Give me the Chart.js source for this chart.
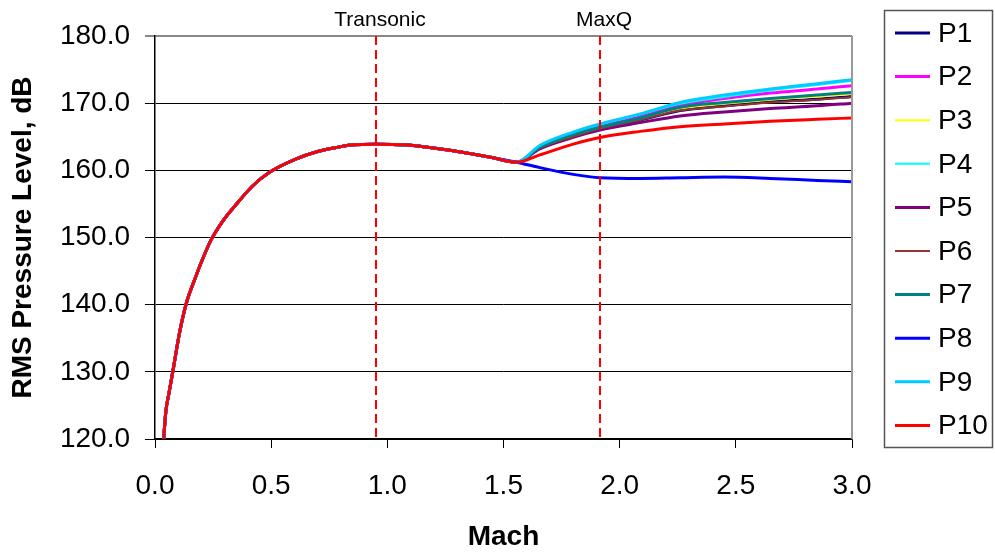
<!DOCTYPE html>
<html lang="en">
<head>
<meta charset="UTF-8">
<title>RMS Pressure Level vs Mach</title>
<script src="https://cdn.jsdelivr.net/npm/chart.js"></script>
<style>
    body { margin: 0; background: #fff; }
    canvas { display: block; }
</style>
</head>
<body>
<canvas id="canvas" width="995" height="552"></canvas>
<script>
    // shared part of all ten curves (they overlap until ~Mach 1.55)
    const machBase = [0.037, 0.047, 0.060, 0.080, 0.105, 0.134, 0.177, 0.198, 0.241, 0.291, 0.349,
        0.421, 0.493, 0.608, 0.700, 0.780, 0.852, 0.95, 1.075, 1.182, 1.269, 1.355, 1.45, 1.556];
    const splBase = [120.0, 124.2, 126.8, 130.7, 135.7, 140.1, 144.3, 146.2, 149.6, 152.4, 154.9,
        157.7, 159.7, 161.7, 162.8, 163.4, 163.8, 163.9, 163.8, 163.4, 163.0, 162.5, 161.9, 161.2];

    // where the curves split apart
    const machTail = [1.656, 1.80, 1.915, 2.088, 2.26, 2.45, 2.648, 2.85, 3.0];
    const p1Tail  = [163.3, 165.1, 166.2, 167.5, 168.9, 169.6, 170.2, 170.6, 171.0];
    const p2Tail  = [163.5, 165.4, 166.6, 168.0, 169.7, 170.7, 171.5, 172.1, 172.6];
    const p3Tail  = [163.4, 165.2, 166.3, 167.7, 169.2, 169.9, 170.5, 171.0, 171.4];
    const p4Tail  = [163.6, 165.6, 166.8, 168.3, 169.9, 170.9, 171.9, 172.7, 173.3];
    const p5Tail  = [163.2, 164.9, 166.0, 167.1, 168.1, 168.7, 169.2, 169.6, 170.0];
    const p6Tail  = [163.3, 165.0, 166.2, 167.5, 168.9, 169.5, 170.1, 170.5, 170.9];
    const p7Tail  = [163.4, 165.3, 166.4, 167.8, 169.4, 170.1, 170.7, 171.2, 171.6];
    const p8Tail  = [160.4, 159.4, 158.9, 158.8, 158.9, 159.0, 158.8, 158.5, 158.3];
    const p9Tail  = [163.7, 165.7, 166.9, 168.4, 170.1, 171.2, 172.1, 172.9, 173.5];
    const p10Tail = [162.3, 163.9, 164.9, 165.8, 166.5, 166.9, 167.3, 167.6, 167.8];

    const seriesLabels = ['P1', 'P2', 'P3', 'P4', 'P5', 'P6', 'P7', 'P8', 'P9', 'P10'];
    const seriesTails = [p1Tail, p2Tail, p3Tail, p4Tail, p5Tail, p6Tail, p7Tail, p8Tail, p9Tail, p10Tail];
    const seriesColors = ['#000080', '#ff00ff', '#ffff00', '#00ffff', '#800080',
        '#993333', '#008080', '#0000ff', '#00ccff', '#ff0000'];
    const seriesWidths = [3, 3, 2, 2, 3, 2, 3, 3, 3, 3];

    // event markers
    const markerMach = [0.95, 1.915];
    const markerLabels = ['Transonic', 'MaxQ'];

    const yTicks = [120, 130, 140, 150, 160, 170, 180];
    const xTicks = [0, 0.5, 1.0, 1.5, 2.0, 2.5, 3.0];

    const FONT = 'Arial, "Liberation Sans", sans-serif';
    Chart.defaults.color = '#000';
    Chart.defaults.font.family = FONT;

    const datasets = seriesLabels.map((label, i) => {
        const xs = machBase.concat(machTail);
        const ys = splBase.concat(seriesTails[i]);
        return {
            label: label,
            data: xs.map((x, k) => ({ x: x, y: ys[k] })),
            borderColor: seriesColors[i],
            backgroundColor: seriesColors[i],
            borderWidth: seriesWidths[i],
            pointRadius: 0,
            cubicInterpolationMode: 'monotone',
            order: seriesLabels.length - i   // later series drawn on top, like the original
        };
    });

    // dashed marker lines, right edge of the plot and the boxed legend
    const extras = {
        id: 'extras',
        afterDatasetsDraw(chart) {
            const { ctx, chartArea: a, scales: { x } } = chart;
            ctx.save();
            ctx.strokeStyle = '#ff0000';
            ctx.lineWidth = 2;
            ctx.setLineDash([9, 5]);
            markerMach.forEach((m, i) => {
                const px = Math.round(x.getPixelForValue(m));
                ctx.beginPath();
                ctx.moveTo(px, a.top);
                ctx.lineTo(px, a.bottom);
                ctx.stroke();
                ctx.fillStyle = '#000';
                ctx.font = '21px ' + FONT;
                ctx.textAlign = 'center';
                ctx.textBaseline = 'middle';
                ctx.fillText(markerLabels[i], px + 4, 20);
            });
            ctx.setLineDash([]);
            ctx.strokeStyle = '#999';
            ctx.lineWidth = 2;
            ctx.beginPath();
            ctx.moveTo(a.right, a.top);
            ctx.lineTo(a.right, a.bottom);
            ctx.stroke();
            ctx.restore();
        },
        afterDraw(chart) {
            const ctx = chart.ctx;
            ctx.save();
            ctx.strokeStyle = '#555';
            ctx.lineWidth = 1.5;
            ctx.strokeRect(884.5, 10.5, 108, 437);
            ctx.font = '28px ' + FONT;
            ctx.textBaseline = 'middle';
            ctx.textAlign = 'left';
            chart.data.datasets.forEach((ds, i) => {
                const cy = 33 + i * 43.6;
                ctx.strokeStyle = ds.borderColor;
                ctx.lineWidth = ds.borderWidth;
                ctx.beginPath();
                ctx.moveTo(895, cy);
                ctx.lineTo(930, cy);
                ctx.stroke();
                ctx.fillStyle = '#000';
                ctx.fillText(ds.label, 938, cy + 1);
            });
            ctx.restore();
        }
    };

    new Chart(document.getElementById('canvas').getContext('2d'), {
        type: 'line',
        data: { datasets: datasets },
        plugins: [extras],
        options: {
            responsive: false,
            animation: false,
            layout: { padding: { top: 36, right: 143, left: 0, bottom: 0 } },
            plugins: { legend: { display: false }, tooltip: { enabled: false } },
            scales: {
                x: {
                    type: 'linear',
                    min: 0,
                    max: 3,
                    afterBuildTicks: s => { s.ticks = xTicks.map(v => ({ value: v })); },
                    afterFit: s => { s.height = 113; },
                    ticks: { font: { size: 28 }, padding: 21, callback: v => v.toFixed(1), maxRotation: 0 },
                    grid: { drawOnChartArea: false, drawTicks: true, tickLength: 9, color: '#000' },
                    border: { color: '#000', width: 1.5 },
                    title: { display: true, text: 'Mach', font: { size: 28, weight: 'bold', lineHeight: 1 }, padding: { top: 0, bottom: 1 } }
                },
                y: {
                    min: 120,
                    max: 180,
                    afterBuildTicks: s => { s.ticks = yTicks.map(v => ({ value: v })); },
                    afterFit: s => { s.width = 155; },
                    ticks: { font: { size: 28 }, padding: 15, callback: v => v.toFixed(1) },
                    grid: {
                        color: c => (c.tick && c.tick.value === 180 ? '#888' : '#000'),
                        lineWidth: c => (c.tick && c.tick.value === 180 ? 2 : 1),
                        tickLength: 10
                    },
                    border: { color: '#000', width: 1.5 },
                    title: { display: true, text: 'RMS Pressure Level, dB', font: { size: 28, weight: 'bold' }, padding: { top: 6, bottom: 0 } }
                }
            }
        }
    });
</script>
</body>
</html>
